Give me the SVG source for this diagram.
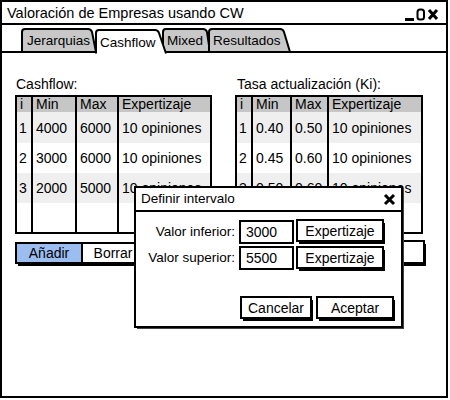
<svg xmlns="http://www.w3.org/2000/svg" width="450" height="400" viewBox="0 0 450 400">
<style>
text{font-family:"Liberation Sans",Arial,sans-serif;font-size:13.5px;fill:#000}
.t{font-size:14px}
.ttl{font-size:14.5px}
.ln{stroke:#000;stroke-width:2;fill:none}
.tab{fill:#c8c8c8;stroke:#000;stroke-width:2}
.hdr{fill:#c6c6c6}
.alt{fill:#efefef}
.box{fill:#fff;stroke:#000;stroke-width:2}
.sh{fill:#000}
.mid{text-anchor:middle}
.end{text-anchor:end}
</style>
<rect x="0" y="0" width="450" height="400" fill="#fff"/>
<g id="window">
<rect x="1" y="1" width="446" height="396" class="box"/>
<line x1="1" y1="24" x2="447" y2="24" class="ln"/>
<text x="7" y="18" class="ttl">Valoración de Empresas usando CW</text>
<line x1="405" y1="19.5" x2="414" y2="19.5" stroke="#000" stroke-width="3"/>
<rect x="417.5" y="9.5" width="6.5" height="10" rx="2.5" fill="none" stroke="#000" stroke-width="2"/>
<path d="M429,10 L437,19 M437,10 L429,19" stroke="#000" stroke-width="3"/>
</g>
<g id="tabs">
<path d="M22,52 L22,32 Q22,29 25,29 L88,29 Q91,29 92,32 L96,52" class="tab"/>
<text x="27" y="45">Jerarquias</text>
<path d="M163,52 L163,32 Q163,29 166,29 L203,29 Q206,29 207,32 L210,52" class="tab"/>
<text x="167" y="45">Mixed</text>
<path d="M209,52 L209,32 Q209,29 212,29 L280,29 Q283,29 284,32 L290,52" class="tab"/>
<text x="213" y="45">Resultados</text>
<line x1="1" y1="52" x2="447" y2="52" class="ln"/>
<path d="M96,53.5 L96,33 Q96,30 99,30 L155,30 Q158,30 159,33 L166,53.5" fill="#fff" stroke="#000" stroke-width="2"/>
<rect x="97" y="51" width="64" height="3" fill="#fff"/>
<text x="100" y="47">Cashflow</text>
</g>
<g id="cashflow-label"><text x="16" y="89" class="t">Cashflow:</text></g>
<g id="tasa-label"><text x="237" y="89" class="t">Tasa actualización (Ki):</text></g>
<g id="cashflow-table" class="t">
<rect x="16" y="96" width="195" height="137" fill="#fff"/>
<rect x="16" y="96" width="195" height="16" class="hdr"/>
<rect x="16" y="112" width="195" height="31" class="alt"/>
<rect x="16" y="173" width="195" height="30" class="alt"/>
<path d="M32,96 V233 M76,96 V233 M118,96 V233" class="ln"/>
<rect x="16" y="96" width="195" height="137" class="ln"/>
<text x="20" y="109" class="t">i</text><text x="36" y="109" class="t">Min</text><text x="80" y="109" class="t">Max</text><text x="122" y="109" class="t">Expertizaje</text>
<text x="19" y="133" class="t">1</text><text x="36" y="133" class="t">4000</text><text x="80" y="133" class="t">6000</text><text x="122" y="133" class="t">10 opiniones</text>
<text x="19" y="163" class="t">2</text><text x="36" y="163" class="t">3000</text><text x="80" y="163" class="t">6000</text><text x="122" y="163" class="t">10 opiniones</text>
<text x="19" y="193" class="t">3</text><text x="36" y="193" class="t">2000</text><text x="80" y="193" class="t">5000</text><text x="122" y="193" class="t">10 opiniones</text>
</g>
<g id="tasa-table">
<rect x="236" y="96" width="186" height="137" fill="#fff"/>
<rect x="236" y="96" width="186" height="16" class="hdr"/>
<rect x="236" y="112" width="186" height="31" class="alt"/>
<rect x="236" y="173" width="186" height="30" class="alt"/>
<path d="M252,96 V233 M291,96 V233 M328,96 V233" class="ln"/>
<rect x="236" y="96" width="186" height="137" class="ln"/>
<text x="240" y="109" class="t">i</text><text x="256" y="109" class="t">Min</text><text x="295" y="109" class="t">Max</text><text x="332" y="109" class="t">Expertizaje</text>
<text x="239" y="133" class="t">1</text><text x="256" y="133" class="t">0.40</text><text x="295" y="133" class="t">0.50</text><text x="332" y="133" class="t">10 opiniones</text>
<text x="239" y="163" class="t">2</text><text x="256" y="163" class="t">0.45</text><text x="295" y="163" class="t">0.60</text><text x="332" y="163" class="t">10 opiniones</text>
<text x="239" y="193" class="t">3</text><text x="256" y="193" class="t">0.50</text><text x="295" y="193" class="t">0.60</text><text x="332" y="193" class="t">10 opiniones</text>
</g>
<g id="cashflow-buttons">
<rect x="18" y="246" width="134" height="20" class="sh"/>
<rect x="16" y="243" width="134" height="20" class="box"/>
<rect x="17" y="244" width="65" height="18" fill="#9cbdf0"/>
<line x1="82" y1="243" x2="82" y2="263" class="ln"/>
<text x="49" y="258" class="mid t">Añadir</text>
<text x="113" y="258" class="mid t">Borrar</text>
</g>
<g id="tasa-buttons">
<rect x="294" y="244" width="132" height="22" class="sh"/>
<rect x="292" y="241" width="132" height="22" class="box"/>
<line x1="358" y1="241" x2="358" y2="263" class="ln"/>
<text x="384" y="257" class="mid t">Borrar</text>
</g>
<g id="dialog">
<rect x="137" y="189" width="267" height="140" fill="#444"/>
<rect x="135" y="187" width="267" height="140" class="box"/>
<line x1="135" y1="211" x2="402" y2="211" class="ln"/>
<text x="141" y="203">Definir intervalo</text>
<path d="M385,195 L394,204 M394,195 L385,204" stroke="#000" stroke-width="3"/>
<text x="235" y="236" class="end">Valor inferior:</text>
<text x="235" y="262" class="end">Valor superior:</text>
</g>
<g id="field-inferior">
<rect x="240" y="221" width="53" height="22" class="box"/>
<text x="246" y="237" class="t">3000</text>
</g>
<g id="field-superior">
<rect x="240" y="247" width="53" height="22" class="box"/>
<text x="246" y="263" class="t">5500</text>
</g>
<g id="btn-exp-1">
<rect x="299" y="223" width="86" height="21" class="sh"/>
<rect x="297" y="220" width="86" height="21" class="box"/>
<text x="340" y="235.5" class="mid t">Expertizaje</text>
</g>
<g id="btn-exp-2">
<rect x="299" y="250" width="86" height="21" class="sh"/>
<rect x="297" y="247" width="86" height="21" class="box"/>
<text x="340" y="262.5" class="mid t">Expertizaje</text>
</g>
<g id="btn-cancelar">
<rect x="243" y="300" width="70" height="21" class="sh"/>
<rect x="241" y="297" width="70" height="21" class="box"/>
<text x="276" y="312.5" class="mid t">Cancelar</text>
</g>
<g id="btn-aceptar">
<rect x="319" y="300" width="76" height="21" class="sh"/>
<rect x="317" y="297" width="76" height="21" class="box"/>
<text x="355" y="312.5" class="mid t">Aceptar</text>
</g>
<g id="connectors"/>
</svg>
